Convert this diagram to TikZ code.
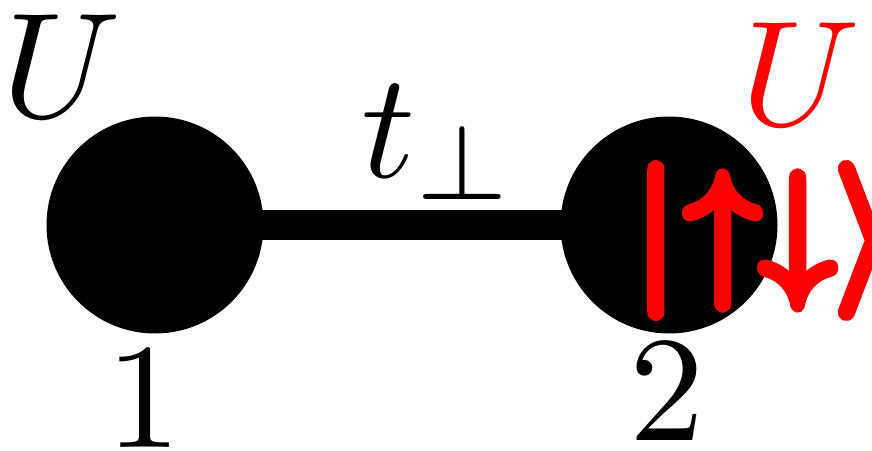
\documentclass[tikz,border=0pt]{standalone}
\usepackage{amsmath}
\newcommand{\strokedtext}[1]{\special{pdf:literal direct 2 Tr 0.75 w 1 J 1 j}#1\special{pdf:literal direct 0 Tr}}
\begin{document}
\begin{tikzpicture}[x=1pt,y=1pt,
  site/.style={circle,fill=black,minimum size=217pt,inner sep=0pt},
  lbl/.style={font=\normalsize,scale=15,inner sep=0pt,anchor=base},
  bond/.style={line width=30pt}]
\useasboundingbox (0,0) rectangle (872,450);
\draw[bond] (155,225) coordinate (c1) -- (669,225) coordinate (c2);
\node[site] (s1) at (c1) {};
\node[site] (s2) at (c2) {};
\node[lbl] (u1) at (62,333) {$U$};
\node[lbl] (one) at (144,3) {$1$};
\node[lbl] (two) at (667,10) {$2$};
\node[lbl,anchor=base west] (t) at (358,273) {$t_\perp$};
\node[lbl,red] (u2) at (801,325) {$U$};
\node[lbl,red,anchor=base west] (ket) at (632,172) {\strokedtext{$|\kern0.57pt{\uparrow}{\downarrow}\rangle$}};
\end{tikzpicture}
\end{document}
